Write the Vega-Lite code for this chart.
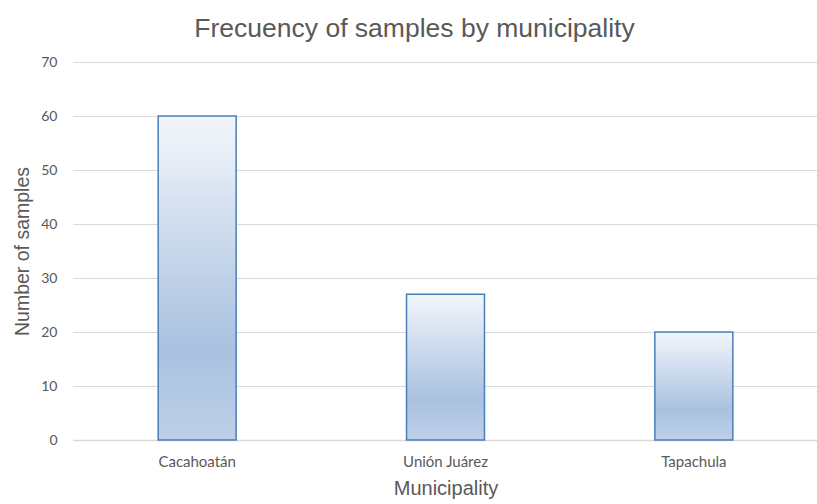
{
  "$schema": "https://vega.github.io/schema/vega-lite/v6.json",
  "width": 745,
  "height": 378,
  "autosize": {"type": "none"},
  "padding": {"left": 73, "top": 62, "right": 0, "bottom": 64},
  "background": "white",
  "title": {
    "text": "Frecuency of samples by municipality",
    "font": "Liberation Sans",
    "fontSize": 26.5,
    "fontWeight": "normal",
    "color": "#595959",
    "anchor": "middle",
    "dx": -31,
    "offset": 13
  },
  "data": {
    "values": [
      {"Municipality": "Cacahoatán", "Samples": 60},
      {"Municipality": "Unión Juárez", "Samples": 27},
      {"Municipality": "Tapachula", "Samples": 20}
    ]
  },
  "mark": {
    "type": "bar",
    "stroke": "#4a7ebb",
    "strokeWidth": 1.5,
    "color": {
      "gradient": "linear",
      "x1": 0, "y1": 0, "x2": 0, "y2": 1,
      "stops": [
        {"offset": 0, "color": "#f2f6fb"},
        {"offset": 0.72, "color": "#a9c1e0"},
        {"offset": 1, "color": "#bdd0e8"}
      ]
    }
  },
  "encoding": {
    "x": {
      "field": "Municipality",
      "type": "nominal",
      "sort": null,
      "scale": {"paddingInner": 0.686, "paddingOuter": 0.343},
      "axis": {
        "title": "Municipality",
        "titleFont": "Liberation Sans",
        "titleFontSize": 20,
        "titleFontWeight": "normal",
        "titleColor": "#595959",
        "titlePadding": 9,
        "labelFont": "Lato",
        "labelFontSize": 15,
        "labelColor": "#595959",
        "labelPadding": 14,
        "labelAngle": 0,
        "ticks": false,
        "domainColor": "#d9d9d9",
        "domainWidth": 1.5
      }
    },
    "y": {
      "field": "Samples",
      "type": "quantitative",
      "scale": {"domain": [0, 70]},
      "axis": {
        "title": "Number of samples",
        "titleFont": "Liberation Sans",
        "titleFontSize": 19.5,
        "titleFontWeight": "normal",
        "titleColor": "#595959",
        "titlePadding": 8,
        "labelFont": "Lato",
        "labelFontSize": 14,
        "labelColor": "#595959",
        "labelPadding": 16,
        "values": [0, 10, 20, 30, 40, 50, 60, 70],
        "ticks": false,
        "domain": false,
        "grid": true,
        "gridColor": "#d9d9d9",
        "gridWidth": 1.2
      }
    }
  },
  "config": {"view": {"stroke": null}}
}
